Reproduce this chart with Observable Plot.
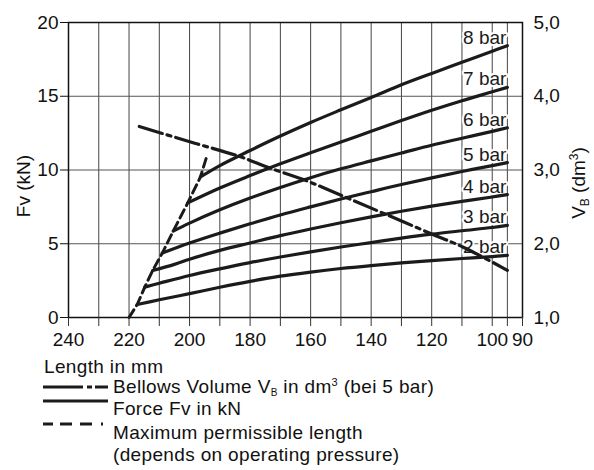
<!DOCTYPE html>
<html><head><meta charset="utf-8">
<script src="https://cdn.jsdelivr.net/npm/d3@7"></script>
<script src="https://cdn.jsdelivr.net/npm/@observablehq/plot@0.6"></script>
<style>
body{margin:0;background:#fff;}
#c{width:594px;height:470px;font-family:"Liberation Sans",Arial,sans-serif;}
#c svg{display:block;}
</style></head><body><div id="c"></div>
<script>
// ---- data ----
const bar2Len   = [217.3, 210, 200, 190, 180, 170, 160, 150, 140, 130, 120, 110, 100, 95];
const bar2Force = [0.88, 1.2, 1.62, 2.05, 2.45, 2.8, 3.08, 3.32, 3.52, 3.7, 3.86, 4.0, 4.13, 4.21];
const bar3Len   = [214.8, 210, 200, 190, 180, 170, 160, 150, 140, 130, 120, 110, 100, 95];
const bar3Force = [2.06, 2.32, 2.85, 3.3, 3.72, 4.1, 4.45, 4.78, 5.08, 5.38, 5.65, 5.88, 6.1, 6.25];
const bar4Len   = [212.2, 205, 200, 190, 180, 170, 160, 150, 140, 130, 120, 110, 100, 95];
const bar4Force = [3.19, 3.6, 3.95, 4.55, 5.05, 5.55, 6.0, 6.42, 6.82, 7.2, 7.55, 7.87, 8.17, 8.33];
const bar5Len   = [209.0, 200, 190, 180, 170, 160, 150, 140, 130, 120, 110, 100, 95];
const bar5Force = [4.37, 5.05, 5.72, 6.35, 6.95, 7.5, 8.03, 8.53, 9.02, 9.47, 9.9, 10.3, 10.5];
const bar6Len   = [205.4, 200, 190, 180, 170, 160, 150, 140, 130, 120, 110, 100, 95];
const bar6Force = [5.86, 6.4, 7.3, 8.1, 8.82, 9.48, 10.08, 10.62, 11.15, 11.68, 12.15, 12.62, 12.86];
const bar7Len   = [200.6, 190, 180, 170, 160, 150, 140, 130, 120, 110, 100, 95];
const bar7Force = [7.77, 8.78, 9.62, 10.42, 11.17, 11.9, 12.62, 13.35, 14.05, 14.7, 15.3, 15.6];
const bar8Len   = [196.4, 190, 180, 170, 160, 150, 140, 130, 120, 110, 100, 95];
const bar8Force = [9.53, 10.3, 11.32, 12.3, 13.22, 14.08, 14.92, 15.78, 16.55, 17.3, 18.05, 18.43];
const pressureLabels = ["2 bar", "3 bar", "4 bar", "5 bar", "6 bar", "7 bar", "8 bar"];

// Bellows volume V_B (dm3) at 5 bar
const volLen = [216.6, 198, 183.2, 174.4, 161.1, 149, 135.8, 120.4, 109.4, 95];
const volDm3 = [3.59, 3.36, 3.18, 3.04, 2.85, 2.64, 2.41, 2.14, 1.95, 1.64];

// Maximum permissible length (dashed)
const maxLen   = [220, 217.3, 214.8, 212.2, 209.0, 205.4, 200.6, 196.4, 194.1];
const maxForce = [0, 0.88, 2.06, 3.19, 4.37, 5.86, 7.77, 9.53, 11.07];

// axes
const xGrid = [240, 230, 220, 210, 200, 190, 180, 170, 160, 150, 140, 130, 120, 110, 100, 95, 90];
const xTickLabels = [240, 220, 200, 180, 160, 140, 120, 100, 90];
const yTicks = [0, 5, 10, 15, 20];
const yGrid = [5, 10, 15];
const volTickLabels = ["1,0", "2,0", "3,0", "4,0", "5,0"];

// ---- build tables ----
const lens = [bar2Len, bar3Len, bar4Len, bar5Len, bar6Len, bar7Len, bar8Len];
const forces = [bar2Force, bar3Force, bar4Force, bar5Force, bar6Force, bar7Force, bar8Force];
const forceRows = pressureLabels.flatMap((p, k) => lens[k].map((l, i) => ({bar: p, len: l, f: forces[k][i]})));
const labelRows = pressureLabels.map((p, k) => ({bar: p, len: lens[k][lens[k].length - 1], f: forces[k][forces[k].length - 1]}));
const volRows = volLen.map((l, i) => ({len: l, v: volDm3[i]}));
const maxRows = maxLen.map((l, i) => ({len: l, f: maxForce[i]}));

const ink = "#1b1b1b";
const chart = Plot.plot({
  width: 594, height: 352,
  marginLeft: 68, marginRight: 72, marginTop: 22, marginBottom: 35,
  style: {fontFamily: '"Liberation Sans", Arial, sans-serif', background: "white"},
  x: {domain: [240, 90]},
  y: {domain: [0, 20]},
  marks: [
    Plot.ruleX(xGrid, {y1: 0, y2: 20, stroke: "#444", strokeWidth: 1}),
    Plot.ruleY(yGrid, {stroke: "#555", strokeWidth: 1}),
    Plot.text(labelRows, {x: "len", y: "f", text: "bar", textAnchor: "end", lineAnchor: "bottom",
      dx: -1, dy: -2, fontSize: 19, fill: ink, stroke: "white", strokeWidth: 4}),
    Plot.line(maxRows, {x: "len", y: "f", stroke: ink, strokeWidth: 3, strokeDasharray: "9,5"}),
    Plot.line(forceRows, {x: "len", y: "f", z: "bar", stroke: ink, strokeWidth: 3.2, curve: "catmull-rom"}),
    Plot.line(volRows, {x: "len", y: d => (d.v - 1) * 5, stroke: ink, strokeWidth: 3.2,
      strokeDasharray: "24,5,4,5", curve: "catmull-rom"}),
    Plot.frame({stroke: "#111", strokeWidth: 1.5}),
    Plot.axisX(xGrid, {tickSize: 9, tickPadding: 6, fontSize: 19, label: null, stroke: "#333",
      tickFormat: d => xTickLabels.includes(d) ? String(d) : "", color: "#111"}),
    Plot.axisY(yTicks, {anchor: "left", tickSize: 8, tickPadding: 2, fontSize: 19, label: null, color: "#111"}),
    Plot.axisY(yTicks, {anchor: "right", tickSize: 0, tickPadding: 11, fontSize: 19, label: null, color: "#111",
      tickFormat: d => volTickLabels[yTicks.indexOf(d)]})
  ]
});

const svg = d3.select(chart);
svg.append("text").attr("transform", "translate(30,186) rotate(-90)")
  .attr("text-anchor", "middle").attr("font-size", 19).attr("fill", "#111").text("Fv (kN)");
const vb = svg.append("text").attr("transform", "translate(585,183) rotate(-90)")
  .attr("text-anchor", "middle").attr("font-size", 19).attr("fill", "#111");
vb.append("tspan").text("V");
vb.append("tspan").attr("font-size", 12).attr("dy", 4).text("B");
vb.append("tspan").attr("dy", -4).text(" (dm");
vb.append("tspan").attr("font-size", 12).attr("dy", -7).text("3");
vb.append("tspan").attr("dy", 7).text(")");

document.getElementById("c").appendChild(chart);

// ---- legend below ----
const lg = d3.select("#c").append("svg").attr("width", 594).attr("height", 118)
  .style("font-family", '"Liberation Sans", Arial, sans-serif');
const fs = 19;
const ls = "0.35px";
lg.append("text").attr("x", 44).attr("y", 21).attr("font-size", fs).attr("letter-spacing", ls).attr("fill", "#111").text("Length in mm");
// dash-dot
[[43, 83], [87, 92], [95, 108]].forEach(([a, b]) =>
  lg.append("line").attr("x1", a).attr("x2", b).attr("y1", 35).attr("y2", 35).attr("stroke", ink).attr("stroke-width", 3));
const t1 = lg.append("text").attr("x", 113).attr("y", 41).attr("font-size", fs).attr("letter-spacing", ls).attr("fill", "#111");
t1.append("tspan").text("Bellows Volume V");
t1.append("tspan").attr("font-size", 10).attr("dy", 3).text("B");
t1.append("tspan").attr("dy", -3).text(" in dm");
t1.append("tspan").attr("font-size", 11).attr("dy", -7).text("3");
t1.append("tspan").attr("dy", 7).text(" (bei 5 bar)");
// solid
lg.append("line").attr("x1", 43).attr("x2", 108).attr("y1", 49).attr("y2", 49).attr("stroke", ink).attr("stroke-width", 3);
lg.append("text").attr("x", 113).attr("y", 63).attr("font-size", fs).attr("letter-spacing", ls).attr("fill", "#111").text("Force Fv in kN");
// dashed
[[43, 53], [60, 72], [80, 92], [101, 103]].forEach(([a, b]) =>
  lg.append("line").attr("x1", a).attr("x2", b).attr("y1", 72).attr("y2", 72).attr("stroke", ink).attr("stroke-width", 3));
lg.append("text").attr("x", 113).attr("y", 87).attr("font-size", fs).attr("letter-spacing", ls).attr("fill", "#111").text("Maximum permissible length");
lg.append("text").attr("x", 113).attr("y", 109).attr("font-size", fs).attr("letter-spacing", ls).attr("fill", "#111").text("(depends on operating pressure)");
</script>
</body></html>
